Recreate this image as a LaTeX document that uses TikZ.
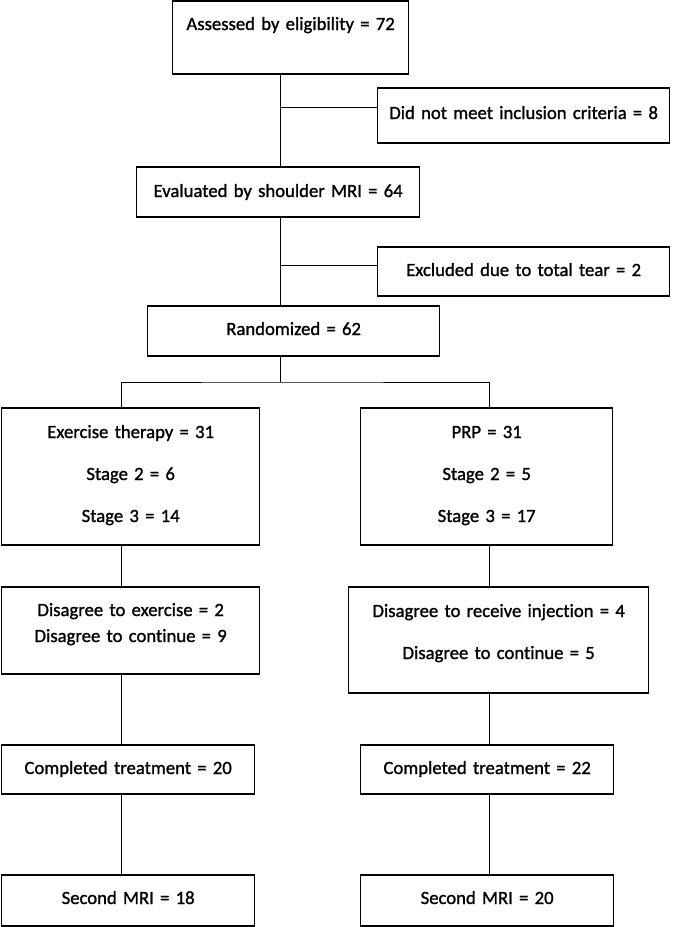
\documentclass[tikz,border=0pt]{standalone}
\usepackage{fontspec}
\setmainfont{Carlito}[Ligatures=NoCommon, RawFeature={embolden=1.2}]
\usetikzlibrary{positioning}

\begin{document}
\begin{tikzpicture}[x=1pt, y=-1pt,
	flowbox/.style={right, draw, line width=1.3pt, inner sep=0pt, align=center, font=\fontsize{18.7}{26}\selectfont},
	flowline/.style={line width=0.9pt}]

	\useasboundingbox (0, 0) rectangle (674, 927);

	\draw (172, 37.5) node (assessed) [flowbox, minimum width=236pt, minimum height=73pt, text width=234pt, text height=29pt, text depth=44pt] {Assessed by eligibility = 72};

	\draw (377, 115.5) node (inclusion) [flowbox, minimum width=292pt, minimum height=55pt, text width=290pt, text height=31pt, text depth=24pt] {Did not meet inclusion criteria = 8};

	\draw (136, 192) node (evaluated) [flowbox, minimum width=283pt, minimum height=50pt, text width=281pt, text height=30pt, text depth=20pt] {Evaluated by shoulder MRI = 64};

	\draw (377, 271.5) node (tear) [flowbox, minimum width=292pt, minimum height=49pt, text width=290pt, text height=29pt, text depth=20pt] {Excluded due to total tear = 2};

	\draw (147, 331) node (randomized) [flowbox, minimum width=292pt, minimum height=50pt, text width=290pt, text height=29pt, text depth=21pt] {Randomized = 62};

	\draw (1, 476.5) node (exercise) [flowbox, minimum width=258pt, minimum height=137pt, text width=256pt, text height=30pt, text depth=107pt] {Exercise therapy = 31\\[16pt] Stage 2 = 6\\[16pt] Stage 3 = 14};

	\draw (360, 476.5) node (prp) [flowbox, minimum width=252pt, minimum height=137pt, text width=250pt, text height=30pt, text depth=107pt] {PRP = 31\\[16pt] Stage 2 = 5\\[16pt] Stage 3 = 17};

	\draw (1, 630.5) node (refusedex) [flowbox, minimum width=258pt, minimum height=87pt, text width=256pt, text height=29pt, text depth=58pt] {Disagree to exercise = 2\\ Disagree to continue = 9};

	\draw (348, 640) node (refusedprp) [flowbox, minimum width=300pt, minimum height=106pt, text width=298pt, text height=30pt, text depth=76pt] {Disagree to receive injection = 4\\[16pt] Disagree to continue = 5};

	\draw (1, 769.5) node (doneex) [flowbox, minimum width=253pt, minimum height=49pt, text width=251pt, text height=29pt, text depth=20pt] {Completed treatment = 20};

	\draw (360, 769.5) node (doneprp) [flowbox, minimum width=253pt, minimum height=49pt, text width=251pt, text height=29pt, text depth=20pt] {Completed treatment = 22};

	\draw (1, 900.5) node (mriex) [flowbox, minimum width=253pt, minimum height=51pt, text width=251pt, text height=29pt, text depth=22pt] {Second MRI = 18};

	\draw (360, 900.5) node (mriprp) [flowbox, minimum width=253pt, minimum height=51pt, text width=251pt, text height=29pt, text depth=22pt] {Second MRI = 20};

	\coordinate (spine) at (280, 0);
	\coordinate (leftcol) at (121, 0);
	\coordinate (rightcol) at (489, 0);
	\coordinate (fork) at (280, 382);

	\draw [flowline] (assessed.south -| spine) -- (evaluated.north -| spine);
	\draw [flowline] ([yshift=8.5pt]inclusion.west) -- ([yshift=8.5pt]inclusion.west -| spine);
	\draw [flowline] (evaluated.south -| spine) -- (randomized.north -| spine);
	\draw [flowline] ([yshift=6.5pt]tear.west) -- ([yshift=6.5pt]tear.west -| spine);
	\draw [flowline] (randomized.south -| spine) -- (fork);
	\draw [flowline] (exercise.north -| leftcol) |- (fork) -| (prp.north -| rightcol);

	\draw [flowline] (exercise.south -| leftcol) -- (refusedex.north -| leftcol);
	\draw [flowline] (refusedex.south -| leftcol) -- (doneex.north -| leftcol);
	\draw [flowline] (doneex.south -| leftcol) -- (mriex.north -| leftcol);

	\draw [flowline] (prp.south -| rightcol) -- (refusedprp.north -| rightcol);
	\draw [flowline] (refusedprp.south -| rightcol) -- (doneprp.north -| rightcol);
	\draw [flowline] (doneprp.south -| rightcol) -- (mriprp.north -| rightcol);

\end{tikzpicture}
\end{document}
